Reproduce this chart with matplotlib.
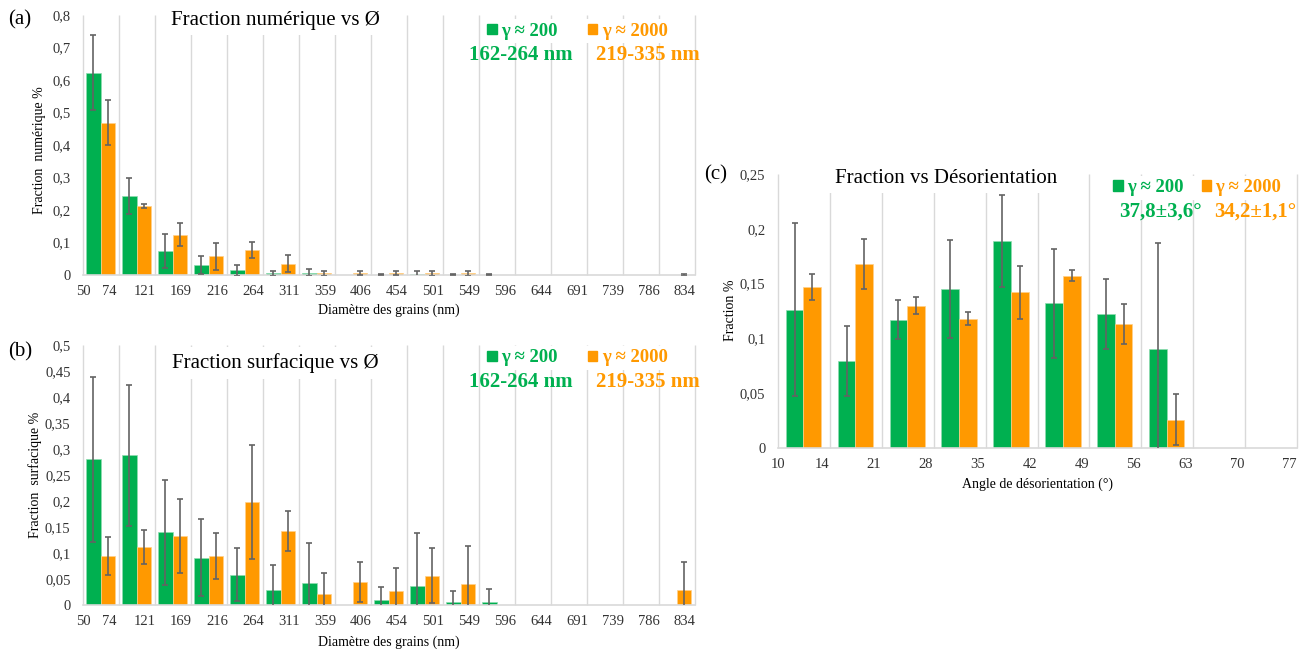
import numpy as np
import matplotlib.pyplot as plt
from matplotlib.patches import Patch
from matplotlib.ticker import FuncFormatter

W, H = 1307, 651
GREEN = '#00B050'
ORANGE = '#FF9900'
GRID = '#D9D9D9'
ERR = '#636363'
nan = np.nan

# (a) et (b) : classes de diametre (nm)
diam_labels = ['50', '74', '121', '169', '216', '264', '311', '359', '406', '454',
               '501', '549', '596', '644', '691', '739', '786', '834']

num_g200 = [0.623, 0.244, 0.074, 0.031, 0.014, 0.005, 0.007, nan, 0.001, 0.003,
            0.001, 0.001, nan, nan, nan, nan, nan]
num_g200_err = [0.116, 0.055, 0.051, 0.027, 0.018, 0.008, 0.010, nan, 0.002, 0.009,
                0.002, 0.002, nan, nan, nan, nan, nan]
num_g2000 = [0.469, 0.212, 0.124, 0.058, 0.077, 0.035, 0.005, 0.006, 0.006, 0.005,
             0.005, nan, nan, nan, nan, nan, 0.001]
num_g2000_err = [0.068, 0.005, 0.035, 0.042, 0.026, 0.026, 0.007, 0.007, 0.007, 0.008,
                 0.008, nan, nan, nan, nan, nan, 0.003]

surf_g200 = [0.280, 0.288, 0.140, 0.091, 0.058, 0.029, 0.042, nan, 0.009, 0.037,
             0.005, 0.006, nan, nan, nan, nan, nan]
surf_g200_err = [0.158, 0.136, 0.101, 0.074, 0.051, 0.048, 0.077, nan, 0.025, 0.101,
                 0.021, 0.024, nan, nan, nan, nan, nan]
surf_g2000 = [0.094, 0.111, 0.133, 0.094, 0.198, 0.142, 0.022, 0.044, 0.026, 0.056,
              0.040, nan, nan, nan, nan, nan, 0.029]
surf_g2000_err = [0.036, 0.033, 0.071, 0.044, 0.109, 0.039, 0.040, 0.038, 0.045, 0.053,
                  0.073, nan, nan, nan, nan, nan, 0.053]

# (c) : angle de desorientation (deg)
angle_labels = ['10', '14', '21', '28', '35', '42', '49', '56', '63', '70', '77']
des_g200 = [0.126, 0.079, 0.117, 0.145, 0.189, 0.132, 0.122, 0.090, nan, nan]
des_g200_err = [0.079, 0.032, 0.018, 0.045, 0.042, 0.050, 0.032, 0.097, nan, nan]
des_g2000 = [0.147, 0.168, 0.130, 0.118, 0.142, 0.157, 0.113, 0.026, nan, nan]
des_g2000_err = [0.012, 0.023, 0.0075, 0.006, 0.024, 0.005, 0.018, 0.023, nan, nan]

plt.rcParams['font.family'] = ['Liberation Serif', 'DejaVu Sans']

fig = plt.figure(figsize=(W / 100, H / 100), dpi=100)


def px_axes(left, top, right, bottom):
    return fig.add_axes([left / W, 1 - bottom / H, (right - left) / W, (bottom - top) / H])


def ftext(x, y, s, **kw):
    return fig.text(x / W, 1 - y / H, s, ha='center', va='center', **kw)


def comma(v, pos):
    s = ('%.2f' % v).rstrip('0').rstrip('.')
    return s.replace('.', ',')


def panel(ax, labels, g, ge, o, oe, ymax, ystep, width, pos_g, pos_o, lab_off):
    n = len(g)
    x = np.arange(n)
    ax.vlines(np.arange(n + 1), 0, ymax, color=GRID, lw=1, zorder=0, clip_on=False)
    ax.bar(x + pos_g, g, width, color=GREEN, edgecolor='#8fdcb0', linewidth=0.5, zorder=2)
    ax.bar(x + pos_o, o, width, color=ORANGE, edgecolor='#ffd08a', linewidth=0.5, zorder=2)
    ax.errorbar(x + pos_g, g, yerr=ge, fmt='none', ecolor=ERR, elinewidth=1.2,
                capsize=2.5, capthick=1.2, zorder=3)
    ax.errorbar(x + pos_o, o, yerr=oe, fmt='none', ecolor=ERR, elinewidth=1.2,
                capsize=2.5, capthick=1.2, zorder=3)
    ax.set_xlim(0, n)
    ax.set_ylim(0, ymax)
    ax.set_xticks(np.r_[0, x + lab_off])
    ax.set_xticklabels(labels)
    ax.set_yticks(np.arange(0, ymax + 1e-9, ystep))
    ax.yaxis.set_major_formatter(FuncFormatter(comma))
    ax.tick_params(length=0, labelsize=10.5, colors='#333333')
    ax.tick_params(axis='x', pad=7)
    ax.tick_params(axis='y', pad=9)
    for s in ['top', 'right', 'left']:
        ax.spines[s].set_visible(False)
    ax.spines['bottom'].set_color(GRID)
    ax.spines['bottom'].set_linewidth(1.2)


def legend(x, y, line2, x2, colsp):
    handles = [Patch(color=GREEN, label='γ ≈ 200'), Patch(color=ORANGE, label='γ ≈ 2000')]
    leg = fig.legend(handles=handles, ncol=2, loc='center left',
                     bbox_to_anchor=(x / W, 1 - y / H), frameon=True, facecolor='white',
                     edgecolor='none', framealpha=1, borderpad=0.2, handlelength=0.5,
                     handleheight=0.5, handletextpad=0.25, columnspacing=colsp,
                     prop=dict(weight='bold', size=13.5))
    for t, c in zip(leg.get_texts(), [GREEN, ORANGE]):
        t.set_color(c)
    ftext(x2[0], y + 24, line2[0], color=GREEN, fontsize=15, weight='bold')
    ftext(x2[1], y + 24, line2[1], color=ORANGE, fontsize=15, weight='bold')


# (a)
ax = px_axes(83, 15, 695, 275)
panel(ax, diam_labels, num_g200, num_g200_err, num_g2000, num_g2000_err,
      0.8, 0.1, 0.4, 0.29, 0.69, 0.72)
ftext(275, 20, 'Fraction numérique vs Ø', fontsize=15,
      bbox=dict(fc='white', ec='none', pad=4))
ftext(20, 20, '(a)', fontsize=15)
ftext(40, 150, 'Fraction  numérique %', fontsize=10, rotation=90)
ftext(389, 310, 'Diamètre des grains (nm)', fontsize=10)
legend(474, 31, ['162-264 nm', '219-335 nm'], [521, 648], 1.6)

# (b)
ax = px_axes(83, 345, 695, 605)
panel(ax, diam_labels, surf_g200, surf_g200_err, surf_g2000, surf_g2000_err,
      0.5, 0.05, 0.4, 0.29, 0.69, 0.72)
ftext(275, 363, 'Fraction surfacique vs Ø', fontsize=15,
      bbox=dict(fc='white', ec='none', pad=4))
ftext(20, 352, '(b)', fontsize=15)
ftext(35, 475, 'Fraction  surfacique %', fontsize=10, rotation=90)
ftext(389, 642, 'Diamètre des grains (nm)', fontsize=10)
legend(474, 358, ['162-264 nm', '219-335 nm'], [521, 648], 1.6)

# (c)
ax = px_axes(778, 174, 1297, 448)
panel(ax, angle_labels, des_g200, des_g200_err, des_g2000, des_g2000_err,
      0.25, 0.05, 0.34, 0.32, 0.66, 0.85)
ftext(946, 178, 'Fraction vs Désorientation', fontsize=15,
      bbox=dict(fc='white', ec='none', pad=4))
ftext(716, 175, '(c)', fontsize=15)
ftext(730, 310, 'Fraction %', fontsize=10, rotation=90)
ftext(1037, 484, 'Angle de désorientation (°)', fontsize=10)
legend(1100, 188, ['37,8±3,6°', '34,2±1,1°'], [1160, 1255], 0.95)

fig.savefig('out.png', dpi=100)
